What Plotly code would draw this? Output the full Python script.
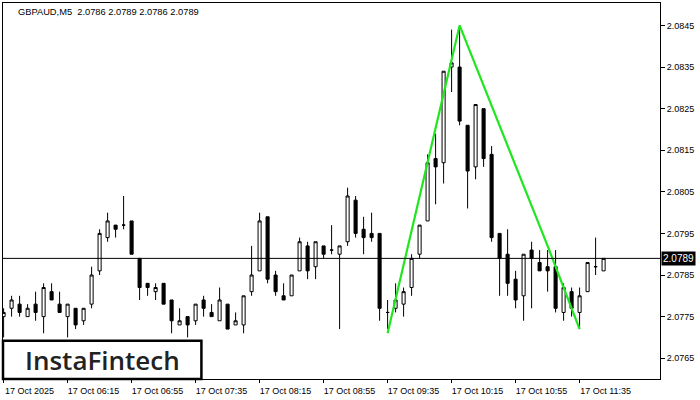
import plotly.graph_objects as go

# 5-minute GBPAUD bars, 17 Oct 2025 from 05:35 (bar index 0) to 11:50
opens = [2.0775, 2.0777, 2.0778, 2.0775, 2.0778, 2.0775, 2.0781, 2.0778, 2.0775, 2.0777,
         2.0774, 2.0778, 2.0786, 2.0794, 2.0797, 2.0797, 2.0798, 2.0789, 2.0783, 2.0781,
         2.0783, 2.0779, 2.0773, 2.0775, 2.0774, 2.0779, 2.0776, 2.0774, 2.0778, 2.0773,
         2.0773, 2.0781, 2.0786, 2.0799, 2.0785, 2.0780, 2.0780, 2.0786, 2.0792, 2.0787,
         2.0792, 2.0791, 2.0790, 2.0793, 2.0803, 2.0796, 2.0795, 2.0795, 2.0776, 2.0777,
         2.0778, 2.0782, 2.0790, 2.0798, 2.0813, 2.0812, 2.0835, 2.0835, 2.0821, 2.0811,
         2.0825, 2.0814, 2.0795, 2.0790, 2.0784, 2.0780, 2.0791, 2.0788, 2.0787, 2.0787,
         2.0776, 2.0781, 2.0776, 2.0781, 2.0787, 2.0786]
highs = [2.0777, 2.0780, 2.0780, 2.0778, 2.0781, 2.0783, 2.0783, 2.0781, 2.0778, 2.0777,
         2.0777, 2.0787, 2.0796, 2.0800, 2.0797, 2.0804, 2.0798, 2.0789, 2.0783, 2.0783,
         2.0783, 2.0779, 2.0777, 2.0775, 2.0778, 2.0780, 2.0778, 2.0782, 2.0778, 2.0776,
         2.0780, 2.0792, 2.0800, 2.0799, 2.0786, 2.0783, 2.0785, 2.0794, 2.0793, 2.0793,
         2.0792, 2.0797, 2.0792, 2.0806, 2.0804, 2.0799, 2.0800, 2.0795, 2.0779, 2.0783,
         2.0782, 2.0790, 2.0797, 2.0814, 2.0819, 2.0834, 2.0844, 2.0845, 2.0821, 2.0826,
         2.0825, 2.0816, 2.0795, 2.0796, 2.0786, 2.0790, 2.0793, 2.0791, 2.0791, 2.0791,
         2.0783, 2.0782, 2.0782, 2.0788, 2.0794, 2.0789]
lows = [2.0770, 2.0775, 2.0775, 2.0775, 2.0774, 2.0771, 2.0779, 2.0776, 2.0770, 2.0772,
        2.0773, 2.0777, 2.0785, 2.0793, 2.0794, 2.0796, 2.0790, 2.0779, 2.0780, 2.0779,
        2.0778, 2.0771, 2.0773, 2.0770, 2.0773, 2.0775, 2.0775, 2.0774, 2.0772, 2.0773,
        2.0771, 2.0780, 2.0786, 2.0783, 2.0780, 2.0779, 2.0780, 2.0786, 2.0784, 2.0784,
        2.0789, 2.0790, 2.0772, 2.0792, 2.0794, 2.0790, 2.0793, 2.0774, 2.0772, 2.0776,
        2.0775, 2.0780, 2.0789, 2.0798, 2.0802, 2.0807, 2.0829, 2.0821, 2.0801, 2.0808,
        2.0811, 2.0793, 2.0780, 2.0780, 2.0777, 2.0774, 2.0777, 2.0786, 2.0781, 2.0776,
        2.0774, 2.0775, 2.0772, 2.0781, 2.0785, 2.0786]
closes = [2.0776, 2.0779, 2.0776, 2.0777, 2.0776, 2.0782, 2.0779, 2.0776, 2.0778, 2.0773,
          2.0777, 2.0785, 2.0795, 2.0798, 2.0796, 2.0797, 2.0790, 2.0782, 2.0782, 2.0782,
          2.0778, 2.0774, 2.0774, 2.0773, 2.0778, 2.0777, 2.0775, 2.0779, 2.0772, 2.0774,
          2.0780, 2.0785, 2.0798, 2.0784, 2.0781, 2.0779, 2.0785, 2.0793, 2.0786, 2.0793,
          2.0790, 2.0791, 2.0792, 2.0804, 2.0795, 2.0794, 2.0794, 2.0777, 2.0776, 2.0779,
          2.0781, 2.0789, 2.0797, 2.0812, 2.0811, 2.0834, 2.0836, 2.0822, 2.0810, 2.0826,
          2.0813, 2.0794, 2.0789, 2.0783, 2.0779, 2.0790, 2.0789, 2.0786, 2.0786, 2.0777,
          2.0782, 2.0777, 2.0780, 2.0788, 2.0787, 2.0789]

tick_bars = [0, 8, 16, 24, 32, 40, 48, 56, 64, 72]
tick_labels = ["17 Oct 2025", "17 Oct 06:15", "17 Oct 06:55", "17 Oct 07:35",
               "17 Oct 08:15", "17 Oct 08:55", "17 Oct 09:35", "17 Oct 10:15",
               "17 Oct 10:55", "17 Oct 11:35"]
price_ticks = [2.0765, 2.0775, 2.0785, 2.0795, 2.0805, 2.0815, 2.0825, 2.0835, 2.0845]

# pattern outline (bar index, price)
pattern_bars = [48, 57, 68, 72]
pattern_prices = [2.0771, 2.0845, 2.0792, 2.0772]

last_price = 2.0789
header = "GBPAUD,M5  2.0786 2.0789 2.0786 2.0789"

FONT = "Liberation Sans"
xs = list(range(len(opens)))

fig = go.Figure(go.Candlestick(
    x=xs, open=opens, high=highs, low=lows, close=closes,
    increasing={"fillcolor": "white", "line": {"color": "black", "width": 1}},
    decreasing={"fillcolor": "black", "line": {"color": "black", "width": 1}},
    showlegend=False, hoverinfo="skip"))

fig.add_trace(go.Scatter(
    x=pattern_bars, y=pattern_prices, mode="lines",
    line={"color": "#1fe61f", "width": 2.2}, showlegend=False, hoverinfo="skip"))

# current price line + label
fig.add_shape(type="line", xref="paper", x0=0, x1=1, y0=last_price, y1=last_price,
              line={"color": "black", "width": 1})
fig.add_annotation(xref="paper", x=1.0, y=last_price, text=f"{last_price:.4f}",
                   xanchor="left", yanchor="middle", showarrow=False, xshift=1,
                   bgcolor="black", borderpad=1,
                   font={"family": FONT, "size": 10, "color": "white"})

fig.add_annotation(xref="paper", yref="paper", x=0.0, y=1.0, text=header,
                   xanchor="left", yanchor="top", showarrow=False, xshift=13, yshift=-2,
                   font={"family": FONT, "size": 9.3, "color": "black"})

# logo box
fig.add_shape(type="rect", xref="paper", yref="paper", x0=0.0, x1=0.302, y0=0.0, y1=0.102,
              fillcolor="white", line={"color": "black", "width": 2.5})
fig.add_annotation(xref="paper", yref="paper", x=0.151, y=0.05, text="InstaFintech",
                   showarrow=False, xanchor="center", yanchor="middle",
                   font={"family": "Open Sans", "size": 26, "color": "#222222",
                         "weight": 600})

fig.update_layout(
    width=700, height=400,
    margin={"l": 3, "r": 40, "t": 3, "b": 21},
    paper_bgcolor="white", plot_bgcolor="white",
    boxgap=0.45,
    xaxis={"range": [-0.075, 82.05], "rangeslider": {"visible": False},
           "tickvals": tick_bars, "ticktext": tick_labels, "ticks": "outside",
           "ticklen": 3, "tickcolor": "black", "ticklabelshift": 26,
           "showgrid": False, "zeroline": False, "showline": True, "linecolor": "black",
           "linewidth": 1, "mirror": True, "fixedrange": True,
           "tickfont": {"family": FONT, "size": 9, "color": "black"}},
    yaxis={"range": [2.0760, 2.08504], "side": "right", "tickvals": price_ticks,
           "ticktext": [f"{p:.4f}" for p in price_ticks], "ticks": "outside",
           "ticklen": 4, "tickcolor": "black", "showgrid": False, "zeroline": False,
           "showline": True, "linecolor": "black", "linewidth": 1, "mirror": True,
           "tickfont": {"family": FONT, "size": 9, "color": "black"}},
)

fig.write_html("out.html", config={"displayModeBar": False},
               post_script="document.body.style.margin='0';document.body.style.overflow='hidden';")
